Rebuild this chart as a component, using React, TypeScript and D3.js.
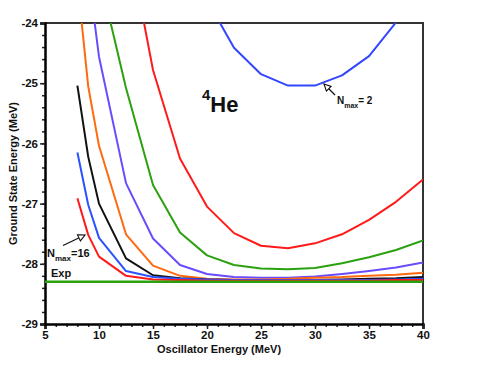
import * as d3 from "d3";
import { useEffect, useRef } from "react";

// oscillator energies (MeV)
const hw = [8, 9, 10, 12.5, 15, 17.5, 20, 22.5, 25, 27.5, 30, 32.5, 35, 37.5, 40];

// ground state energies for each Nmax (null = not computed / off chart)
const nmax2 = [null, null, null, null, null, null, -23.62, -24.41, -24.85, -25.04, -25.04, -24.87, -24.55, -23.99, -23.45];
const nmax4 = [null, null, null, -22.43, -24.78, -26.25, -27.05, -27.49, -27.7, -27.74, -27.66, -27.51, -27.27, -26.97, -26.6];
const nmax6 = [null, null, -23.18, -25.08, -26.69, -27.48, -27.86, -28.02, -28.08, -28.09, -28.07, -27.99, -27.89, -27.77, -27.61];
const nmax8 = [null, -23.16, -24.56, -26.66, -27.58, -28.02, -28.17, -28.22, -28.23, -28.23, -28.21, -28.17, -28.12, -28.06, -27.98];
const nmax10 = [-23.3, -25.05, -26.04, -27.51, -28.03, -28.2, -28.25, -28.26, -28.26, -28.25, -28.23, -28.22, -28.2, -28.18, -28.15];
const nmax12 = [-25.04, -26.22, -27.0, -27.91, -28.19, -28.24, -28.26, -28.27, -28.27, -28.27, -28.27, -28.26, -28.25, -28.24, -28.22];
const nmax14 = [-26.15, -27.02, -27.57, -28.12, -28.22, -28.25, -28.26, -28.27, -28.27, -28.27, -28.27, -28.27, -28.27, -28.26, -28.25];
const nmax16 = [-26.91, -27.52, -27.88, -28.2, -28.26, -28.27, -28.28, -28.28, -28.28, -28.28, -28.28, -28.28, -28.28, -28.27, -28.27];

const expEnergy = -28.3;

const xTicks = [5, 10, 15, 20, 25, 30, 35, 40];
const yTicks = [-24, -25, -26, -27, -28, -29];

const series = [
  { name: "2", values: nmax2, color: "#3346ff" },
  { name: "4", values: nmax4, color: "#ff1a1a" },
  { name: "6", values: nmax6, color: "#2aa10f" },
  { name: "8", values: nmax8, color: "#6a4cff" },
  { name: "10", values: nmax10, color: "#ff6a10" },
  { name: "12", values: nmax12, color: "#111111" },
  { name: "14", values: nmax14, color: "#2a52ff" },
  { name: "16", values: nmax16, color: "#ff1a1a" },
];

function App() {
  const ref = useRef(null);

  useEffect(() => {
    const width = 491;
    const height = 379;
    const margin = { top: 23, right: 68, bottom: 55, left: 45 };
    const font = "'Liberation Sans', Arial, Helvetica, sans-serif";

    const root = d3.select(ref.current);
    root.selectAll("*").remove();

    const svg = root
      .append("svg")
      .attr("width", width)
      .attr("height", height)
      .style("position", "absolute")
      .style("left", 0)
      .style("top", 0)
      .style("font-family", font);

    const innerW = width - margin.left - margin.right;
    const innerH = height - margin.top - margin.bottom;

    const x = d3.scaleLinear().domain([5, 40]).range([margin.left, margin.left + innerW]);
    const y = d3.scaleLinear().domain([-29, -24]).range([margin.top + innerH, margin.top]);

    // plain hyphen for negatives, like the original figure
    const fmt = (d) => String(d);

    // clip to the plot frame
    svg
      .append("clipPath")
      .attr("id", "plot-clip")
      .append("rect")
      .attr("x", margin.left)
      .attr("y", margin.top)
      .attr("width", innerW)
      .attr("height", innerH);

    // frame (top + right)
    svg
      .append("path")
      .attr("d", `M${x(5)},${y(-24)}H${x(40)}V${y(-29)}`)
      .attr("fill", "none")
      .attr("stroke", "#333")
      .attr("stroke-width", 2);

    // bottom axis
    const xAxis = svg.append("g").attr("transform", `translate(0,${y(-29)})`);
    xAxis
      .call(d3.axisBottom(x).tickValues(d3.range(5, 41, 1)).tickSize(3).tickFormat(""))
      .call((g) => g.select(".domain").remove());
    xAxis
      .append("g")
      .call(d3.axisBottom(x).tickValues(xTicks).tickSize(5).tickPadding(2).tickFormat(fmt))
      .call((g) => g.select(".domain").attr("stroke-width", 2.5))
      .call((g) =>
        g.selectAll("text").attr("font-size", 11.5).attr("font-weight", "bold").attr("fill", "#111").attr("font-family", font)
      );
    xAxis.selectAll("line").attr("stroke-width", 1.5).attr("stroke", "#222");

    // left axis
    const yAxis = svg.append("g").attr("transform", `translate(${x(5)},0)`);
    yAxis
      .call(d3.axisLeft(y).tickValues(d3.range(-29, -23.99, 0.2)).tickSize(3).tickFormat(""))
      .call((g) => g.select(".domain").remove());
    yAxis
      .append("g")
      .call(d3.axisLeft(y).tickValues(yTicks).tickSize(5).tickPadding(2).tickFormat(fmt))
      .call((g) => g.select(".domain").attr("stroke-width", 2.5))
      .call((g) =>
        g.selectAll("text").attr("font-size", 11.5).attr("font-weight", "bold").attr("fill", "#111").attr("font-family", font)
      );
    yAxis.selectAll("line").attr("stroke-width", 1.5).attr("stroke", "#222");

    // axis titles
    svg
      .append("text")
      .attr("x", x(22.5) - 15)
      .attr("y", 353)
      .attr("text-anchor", "middle")
      .attr("font-size", 11)
      .attr("font-weight", "bold")
      .attr("fill", "#111")
      .text("Oscillator Energy (MeV)");

    svg
      .append("text")
      .attr("transform", `translate(17,${y(-26.5)}) rotate(-90)`)
      .attr("text-anchor", "middle")
      .attr("font-size", 11)
      .attr("font-weight", "bold")
      .attr("fill", "#111")
      .text("Ground State Energy (MeV)");

    // curves
    const plot = svg.append("g").attr("clip-path", "url(#plot-clip)");

    const line = d3
      .line()
      .defined((d) => d[1] != null)
      .x((d) => x(d[0]))
      .y((d) => y(d[1]));

    series.forEach((s) => {
      plot
        .append("path")
        .datum(hw.map((h, i) => [h, s.values[i]]))
        .attr("fill", "none")
        .attr("stroke", s.color)
        .attr("stroke-width", 2)
        .attr("stroke-linejoin", "round")
        .attr("d", line);
    });

    // experiment
    plot
      .append("line")
      .attr("x1", x(5))
      .attr("x2", x(40))
      .attr("y1", y(expEnergy))
      .attr("y2", y(expEnergy))
      .attr("stroke", "#2aa10f")
      .attr("stroke-width", 2.5);

    // labels
    const label = svg.append("g").attr("fill", "#111").attr("font-weight", "bold");

    const he = label.append("text").attr("x", 202).attr("y", 112);
    he.append("tspan").attr("font-size", 15).attr("dy", -12).text("4");
    he.append("tspan").attr("font-size", 22).attr("dy", 12).text("He");

    label.append("text").attr("x", 51).attr("y", 277).attr("font-size", 11).text("Exp");

    const n16 = label.append("text").attr("x", 47).attr("y", 257).attr("font-size", 11);
    n16.append("tspan").text("N");
    n16.append("tspan").attr("font-size", 8).attr("dy", 4).text("max");
    n16.append("tspan").attr("dy", -4).text("=16");

    const n2 = label.append("text").attr("x", 337).attr("y", 104).attr("font-size", 10);
    n2.append("tspan").text("N");
    n2.append("tspan").attr("font-size", 7).attr("dy", 4).text("max");
    n2.append("tspan").attr("dy", -4).text("= 2");

    // arrows with open triangle heads
    svg
      .append("defs")
      .append("marker")
      .attr("id", "open-head")
      .attr("viewBox", "0 0 10 10")
      .attr("refX", 9)
      .attr("refY", 5)
      .attr("markerWidth", 7)
      .attr("markerHeight", 7)
      .attr("orient", "auto")
      .append("path")
      .attr("d", "M1,1L9,5L1,9Z")
      .attr("fill", "white")
      .attr("stroke", "#111")
      .attr("stroke-width", 1.3);

    const arrows = [
      [63, 245.5, 85, 235],
      [335, 95, 324, 84],
    ];
    arrows.forEach((a) => {
      svg
        .append("line")
        .attr("x1", a[0])
        .attr("y1", a[1])
        .attr("x2", a[2])
        .attr("y2", a[3])
        .attr("stroke", "#111")
        .attr("stroke-width", 1.2)
        .attr("marker-end", "url(#open-head)");
    });
  }, []);

  return <div ref={ref}></div>;
}

export default App;
